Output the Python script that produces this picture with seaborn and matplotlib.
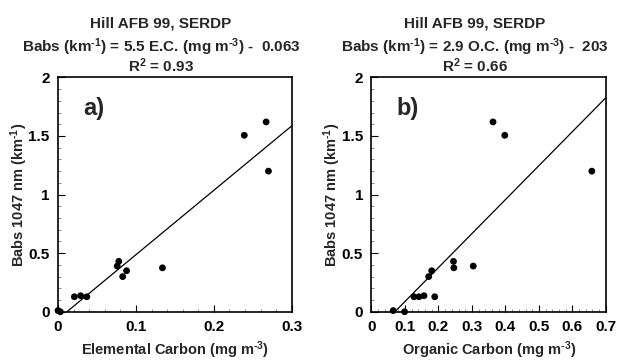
import numpy as np
import pandas as pd
import matplotlib
matplotlib.use('Agg')
import matplotlib.pyplot as plt
from matplotlib.ticker import MultipleLocator, FuncFormatter
import seaborn as sns

# Data
ec = [0.0, 0.003, 0.021, 0.029, 0.037, 0.076, 0.078, 0.083, 0.088, 0.134, 0.239, 0.267, 0.270]
babs_ec = [0.01, 0.0, 0.128, 0.137, 0.128, 0.39, 0.43, 0.30, 0.35, 0.375, 1.506, 1.62, 1.20]

oc = [0.065, 0.099, 0.127, 0.142, 0.157, 0.189, 0.171, 0.180, 0.245, 0.246, 0.304, 0.363, 0.398, 0.658]
babs_oc = [0.01, 0.0, 0.128, 0.128, 0.137, 0.128, 0.30, 0.35, 0.43, 0.375, 0.39, 1.62, 1.506, 1.20]

# fit parameters quoted in the titles
slopes = [5.5, 2.9]
intercepts = [-0.063, -0.203]
r2_text = ['0.93', '0.66']
x_max = [0.3, 0.7]
panel_tags = ['a)', 'b)']
x_labels = [r'Elemental Carbon (mg m$^{\text{-}3}$)', r'Organic Carbon (mg m$^{\text{-}3}$)']
eq_text = [r'Babs (km$^{\text{-}1}$) = 5.5 E.C. (mg m$^{\text{-}3}$) -  0.063',
           r'Babs (km$^{\text{-}1}$) = 2.9 O.C. (mg m$^{\text{-}3}$) -  203']

sns.set_style('ticks')
plt.rcParams['font.family'] = ['Liberation Sans', 'DejaVu Sans']
plt.rcParams['font.weight'] = 'bold'
plt.rcParams['mathtext.default'] = 'bf'
plt.rcParams['mathtext.fontset'] = 'custom'
plt.rcParams['mathtext.rm'] = 'Liberation Sans:bold'
plt.rcParams['mathtext.bf'] = 'Liberation Sans:bold'

fig = plt.figure(figsize=(6.17, 3.6), dpi=100)
ax_pos = [[0.094, 0.134, 0.379, 0.651], [0.602, 0.134, 0.380, 0.651]]

frames = [pd.DataFrame({'x': ec, 'y': babs_ec}), pd.DataFrame({'x': oc, 'y': babs_oc})]

for i in range(2):
    ax = fig.add_axes(ax_pos[i])
    sns.scatterplot(data=frames[i], x='x', y='y', ax=ax, color='black',
                    s=24, edgecolor='none', clip_on=False, zorder=3)
    # regression line from x-intercept to right edge
    x0 = -intercepts[i] / slopes[i]
    xs = np.array([x0, x_max[i]])
    ax.plot(xs, slopes[i] * xs + intercepts[i], color='black', lw=0.9)

    ax.set_xlim(0, x_max[i])
    ax.set_ylim(0, 2)
    ax.xaxis.set_major_locator(MultipleLocator(0.1))
    ax.xaxis.set_minor_locator(MultipleLocator(0.02))
    ax.yaxis.set_major_locator(MultipleLocator(0.5))
    ax.yaxis.set_minor_locator(MultipleLocator(0.1))
    fmt = FuncFormatter(lambda v, p: '%g' % round(v, 3))
    ax.xaxis.set_major_formatter(fmt)
    ax.yaxis.set_major_formatter(fmt)
    ax.tick_params(which='major', direction='in', length=5, width=0.8,
                   labelsize=11, pad=6, colors='black')
    ax.tick_params(which='minor', direction='in', length=2.5, width=0.6, colors='#777777')
    for lab in ax.get_xticklabels() + ax.get_yticklabels():
        lab.set_fontweight('bold')
    for sp in ax.spines.values():
        sp.set_visible(True)
        sp.set_linewidth(1.2)
        sp.set_color('black')

    ax.set_xlabel(x_labels[i], fontsize=10.5, fontweight='bold', labelpad=4)
    ax.set_ylabel(r'Babs 1047 nm (km$^{\text{-}1}$)', fontsize=10.5, fontweight='bold', labelpad=-1)

    ax.text(0.107, 0.84, panel_tags[i], transform=ax.transAxes, fontsize=17,
            fontweight='bold', va='baseline', ha='left')

    cx = (ax_pos[i][0] + 0.44 * ax_pos[i][2])
    fig.text(cx, 0.925, 'Hill AFB 99, SERDP', ha='center', va='baseline',
             fontsize=11, fontweight='bold')
    fig.text(cx, 0.856, eq_text[i], ha='center', va='baseline',
             fontsize=11, fontweight='bold')
    fig.text(cx, 0.80, r'R$^{2}$ = ' + r2_text[i], ha='center', va='baseline',
             fontsize=11, fontweight='bold')

fig.savefig('out.png', dpi=100)
